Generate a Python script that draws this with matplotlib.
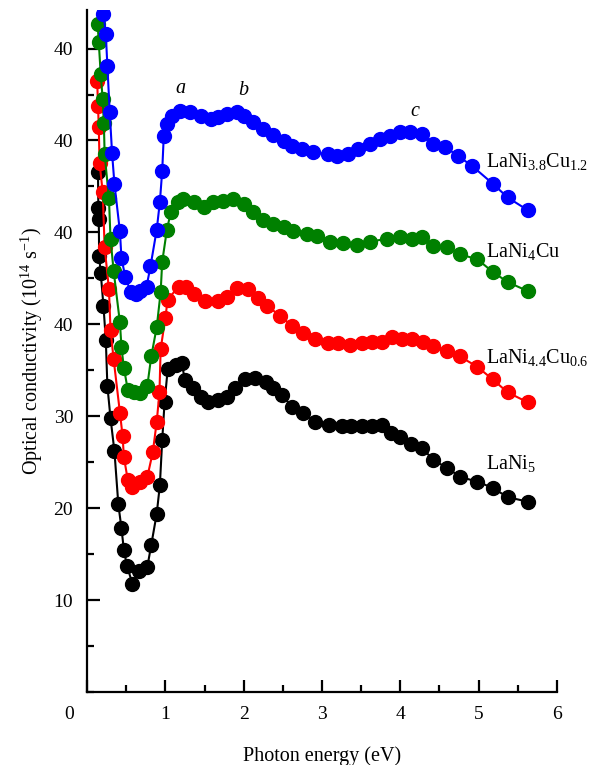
import matplotlib
matplotlib.use("Agg")
import matplotlib.pyplot as plt
import matplotlib.transforms as mtransforms
from matplotlib.ticker import MultipleLocator

plt.rcParams['font.family'] = ['Liberation Serif', 'DejaVu Serif']
plt.rcParams['mathtext.fontset'] = 'custom'
plt.rcParams['mathtext.rm'] = 'Liberation Serif'
plt.rcParams['mathtext.it'] = 'Liberation Serif:italic'

# LaNi5 (black)
x_lani5 = [0.14, 0.145, 0.15, 0.155, 0.175, 0.21, 0.24, 0.26, 0.30, 0.35, 0.40, 0.44,
           0.47, 0.51, 0.58, 0.66, 0.77, 0.82, 0.89, 0.93, 0.96, 0.99, 1.03, 1.13,
           1.21, 1.25, 1.35, 1.45, 1.55, 1.67, 1.79, 1.89, 2.02, 2.15, 2.28, 2.38,
           2.49, 2.62, 2.76, 2.91, 3.09, 3.25, 3.37, 3.51, 3.64, 3.77, 3.88, 4.00,
           4.14, 4.28, 4.42, 4.60, 4.76, 4.98, 5.18, 5.37, 5.63]
y_lani5 = [56.6, 52.7, 51.5, 47.4, 45.6, 42.0, 38.3, 33.3, 29.8, 26.2, 20.4, 17.8,
           15.5, 13.7, 11.8, 13.2, 13.6, 16.0, 19.4, 22.5, 27.4, 31.5, 35.1, 35.6,
           35.8, 33.9, 33.1, 32.1, 31.6, 31.8, 32.1, 33.1, 34.0, 34.2, 33.7, 33.1,
           32.3, 31.0, 30.4, 29.4, 29.1, 28.9, 28.9, 28.9, 28.9, 29.0, 28.2, 27.7,
           27.0, 26.6, 25.2, 24.4, 23.4, 22.9, 22.2, 21.2, 20.7]

# LaNi4.4Cu0.6 (red)
x_cu06 = [0.13, 0.14, 0.15, 0.16, 0.20, 0.225, 0.28, 0.30, 0.34, 0.42, 0.455, 0.47,
          0.52, 0.58, 0.68, 0.77, 0.84, 0.89, 0.925, 0.94, 1.00, 1.03, 1.17, 1.26,
          1.36, 1.51, 1.67, 1.79, 1.92, 2.05, 2.18, 2.30, 2.47, 2.62, 2.76, 2.91,
          3.08, 3.21, 3.36, 3.51, 3.64, 3.77, 3.89, 4.02, 4.15, 4.29, 4.42, 4.60,
          4.76, 4.98, 5.18, 5.37, 5.63]
y_cu06 = [66.5, 63.8, 61.5, 57.6, 54.4, 48.4, 43.8, 39.4, 36.2, 30.4, 27.8, 25.6,
          23.1, 22.3, 22.9, 23.4, 26.1, 29.4, 32.6, 37.3, 40.7, 42.7, 44.1, 44.1,
          43.3, 42.5, 42.5, 43.0, 44.0, 43.8, 42.9, 42.0, 40.9, 39.8, 39.1, 38.4,
          38.0, 38.0, 37.8, 38.0, 38.1, 38.1, 38.6, 38.4, 38.4, 38.1, 37.6, 37.1,
          36.5, 35.4, 34.0, 32.6, 31.5]

# LaNi4Cu (green)
x_cu10 = [0.135, 0.15, 0.175, 0.20, 0.215, 0.225, 0.28, 0.30, 0.34, 0.42, 0.44, 0.47,
          0.52, 0.60, 0.68, 0.77, 0.82, 0.89, 0.94, 0.96, 1.02, 1.07, 1.16, 1.23,
          1.36, 1.49, 1.61, 1.74, 1.87, 2.00, 2.12, 2.25, 2.38, 2.51, 2.63, 2.81,
          2.94, 3.10, 3.27, 3.45, 3.61, 3.83, 4.00, 4.15, 4.28, 4.42, 4.60, 4.76,
          4.98, 5.18, 5.37, 5.63]
y_cu10 = [72.7, 70.7, 67.2, 64.5, 61.9, 58.5, 53.7, 49.3, 45.8, 40.2, 37.5, 35.3,
          32.9, 32.6, 32.5, 33.3, 36.5, 39.7, 43.5, 46.8, 50.3, 52.2, 53.3, 53.6,
          53.3, 52.8, 53.3, 53.4, 53.6, 53.1, 52.2, 51.4, 50.9, 50.6, 50.1, 49.8,
          49.6, 49.0, 48.8, 48.6, 49.0, 49.3, 49.5, 49.3, 49.5, 48.5, 48.4, 47.6,
          47.1, 45.7, 44.6, 43.6]

# LaNi3.8Cu1.2 (blue)
x_cu12 = [0.21, 0.24, 0.26, 0.29, 0.32, 0.35, 0.42, 0.44, 0.49, 0.56, 0.62, 0.68,
          0.76, 0.81, 0.89, 0.93, 0.96, 0.98, 1.02, 1.09, 1.19, 1.32, 1.45, 1.58,
          1.67, 1.79, 1.92, 2.00, 2.12, 2.25, 2.38, 2.51, 2.62, 2.75, 2.89, 3.08,
          3.19, 3.33, 3.46, 3.61, 3.74, 3.87, 4.00, 4.12, 4.28, 4.42, 4.57, 4.74,
          4.92, 5.18, 5.37, 5.63]
y_cu12 = [73.8, 71.6, 68.1, 63.1, 58.6, 55.3, 50.1, 47.2, 45.1, 43.5, 43.3, 43.6,
          44.1, 46.3, 50.3, 53.3, 56.7, 60.5, 61.8, 62.7, 63.2, 63.1, 62.7, 62.3,
          62.6, 62.9, 63.1, 62.7, 62.0, 61.3, 60.6, 59.9, 59.4, 59.1, 58.7, 58.5,
          58.3, 58.5, 59.1, 59.6, 60.2, 60.5, 60.9, 60.9, 60.7, 59.6, 59.3, 58.3,
          57.2, 55.3, 53.8, 52.4]

series = [
    (x_lani5, y_lani5, 'black', r'LaNi$_{5}$', 24.9),
    (x_cu06, y_cu06, '#ff0000', r'LaNi$_{4.4}$Cu$_{0.6}$', 36.4),
    (x_cu10, y_cu10, '#008000', r'LaNi$_{4}$Cu', 47.9),
    (x_cu12, y_cu12, '#0000ff', r'LaNi$_{3.8}$Cu$_{1.2}$', 57.7),
]

ytick_vals = [10, 20, 30, 40, 50, 60, 70]
ytick_labels = ['10', '20', '30', '40', '40', '40', '40']
peak_labels = [('a', 1.19, 65.6), ('b', 2.0, 65.4), ('c', 4.19, 63.2)]

fig = plt.figure(figsize=(6.03, 7.65), dpi=100)
ax = fig.add_axes([0.1443, 0.0954, 0.9237 - 0.1443, 0.987 - 0.0954])

for xs, ys, col, lab, ly in series:
    ax.plot(xs, ys, '-o', color=col, lw=1.5, ms=10, mec=col, mfc=col)
    ax.text(5.10, ly, lab, fontsize=14.5, va='center', ha='left')

for t, px, py in peak_labels:
    ax.text(px, py, t, fontsize=14.5, style='italic', ha='center', va='center')

ax.set_xlim(0, 6)
ax.set_ylim(0, 74.2)
ax.set_xticks(range(7))
ax.xaxis.set_minor_locator(MultipleLocator(0.5))
ax.set_yticks(ytick_vals)
ax.set_yticklabels(ytick_labels)
ax.yaxis.set_minor_locator(MultipleLocator(5))

for side in ['top', 'right']:
    ax.spines[side].set_visible(False)
for side in ['left', 'bottom']:
    ax.spines[side].set_linewidth(1.6)

ax.tick_params(which='major', direction='in', length=9, width=1.6, labelsize=14, pad=10)
ax.tick_params(which='minor', direction='in', length=5, width=1.6)

# the origin label sits left of the corner
lbl0 = ax.get_xticklabels()[0]
lbl0.set_transform(lbl0.get_transform() + mtransforms.ScaledTranslation(-0.18, 0, fig.dpi_scale_trans))

ax.set_xlabel('Photon energy (eV)', fontsize=14.5, labelpad=17)
ax.set_ylabel(r'Optical conductivity (10$^{14}$ s$^{-1}$)', fontsize=14.5, labelpad=6)

fig.savefig('out.png', dpi=100)
